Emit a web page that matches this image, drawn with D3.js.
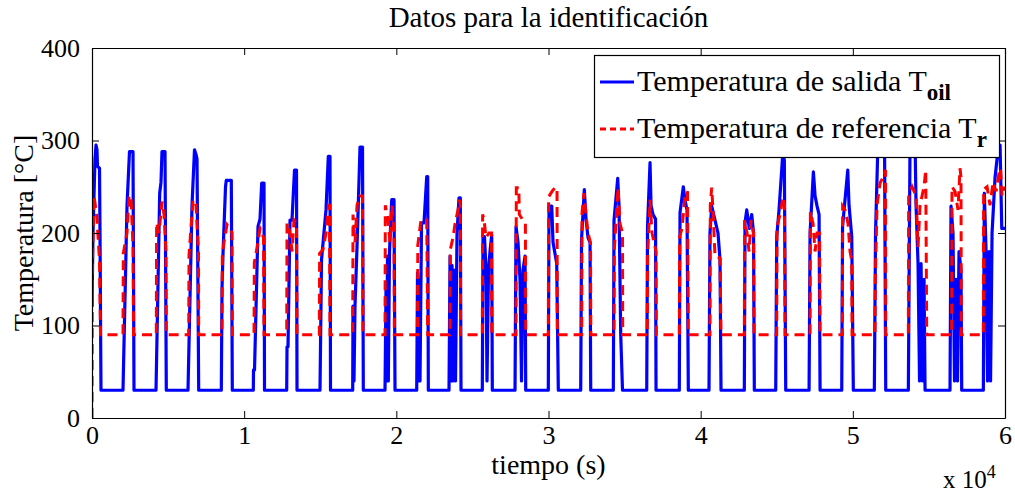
<!DOCTYPE html>
<html><head><meta charset="utf-8">
<script src="https://cdn.jsdelivr.net/npm/d3@7"></script>
<style>body{margin:0;background:#fff}svg{display:block}text{font-family:"Liberation Serif","Times New Roman",serif;fill:#000}</style>
</head><body>
<svg id="c" width="1015" height="493"></svg>
<script>
const titleText = "Datos para la identificación";
const xLabel = "tiempo (s)";
const yLabel = "Temperatura [°C]";
const xTicks = [0,10000,20000,30000,40000,50000,60000];
const yTicks = [0,100,200,300,400];
const legendLabels = ["Temperatura de salida T", "Temperatura de referencia T"];
const legendSubs = ["oil", "r"];

// Blue: Temperatura de salida T_oil  (time s, value °C)
const blueT = [0,66,197,263,329,361,493,526,591,
2037,2300,2464,2695,2760,
4206,4449,4535,4600,4798,4883,
6309,6572,6736,6835,6901,7012,
8498,8544,8610,8774,8827,9155,9221,
10601,10614,10680,10910,11041,11153,11304,11337,
12796,12816,12881,13013,13144,13308,13440,13473,
14984,15083,15378,15530,15641,15674,
17133,17153,17218,17284,17416,17613,17777,17830,
19256,19322,19355,19421,19473,19552,19697,19848,19913,
21339,21392,21444,21503,21556,21655,21819,21997,22062,22102,
23462,23528,23594,23659,23725,23791,23889,23988,24119,24205,24251,
25650,25696,25795,25893,25959,26058,26157,26268,26308,
27800,27865,27997,28128,28227,28325,28457,28503,
29988,30034,30212,30297,30540,30645,
32117,32170,32354,32466,32597,32729,32775,
34260,34306,34549,34634,34746,34864,
36455,36508,36672,36738,36869,37034,37067,
38597,38643,38860,38972,39103,39189,
40547,40613,40725,40942,41139,41271,41337,
42869,42915,43027,43198,43355,43474,43527,
44932,44998,45150,45393,45498,45590,
47124,47190,47407,47519,47650,47781,47847,
49271,49324,49666,49750,49928,50033,
51413,51492,51656,52083,52162,
53648,53760,54088,54154,54285,54384,54483,54581,54680,54746,
56386,56452,56583,56682,56780,56879,56978,57109,57155,
58577,58643,58755,58853,58952,59051,59149,59346,59563,59675,59787,60000];
const blueV = [120,200,280,295,290,272,270,200,30,
30,229,288,288,30,
30,243,255,288,288,30,
30,230,290,285,280,30,
30,140,178,250,257,257,30,
30,52,52,207,215,254,254,30,
30,77,77,214,214,268,268,30,
30,171,225,283,283,30,
30,121,40,121,185,293,293,30,
30,139,40,175,40,180,236,236,30,
30,157,40,150,40,211,211,261,261,30,
30,175,40,165,40,160,40,200,238,238,30,
30,196,196,160,40,160,180,198,30,
30,207,190,150,40,160,175,30,
30,229,229,190,167,30,
30,193,247,215,195,190,30,
30,214,259,230,90,30,
30,207,276,230,220,215,30,
30,222,250,235,225,30,
30,200,229,214,200,171,30,
30,211,225,205,220,200,30,
30,196,225,285,279,30,
30,200,266,240,229,220,30,
30,207,268,230,196,30,
30,200,300,300,30,
30,300,300,230,167,40,167,40,150,30,
30,229,200,40,150,40,180,160,30,
30,243,180,40,180,40,200,260,293,295,205,205];

// Red: Temperatura de referencia T_r
const redT = [0,20,131,263,329,493,559,
2037,2057,2300,2432,2563,2695,2727,
4226,4246,4404,4600,4732,4864,4883,
6355,6375,6638,6835,6999,7012,
8544,8564,8675,8872,9069,9201,9221,
10647,10666,10910,11041,11173,11271,11304,
12796,12816,13013,13144,13276,13440,13473,
14938,14958,15181,15378,15543,15608,15641,
17133,17153,17284,17416,17613,17777,17810,
19256,19276,19454,19585,19717,19848,19868,
21392,21411,21621,21997,22062,
23528,23548,23725,23857,24054,24153,24205,24218,
25650,25670,25762,25893,26091,26255,26268,
27865,27885,28049,28082,28482,28503,
29988,30008,30231,30428,30560,30580,
32183,32203,32334,32466,32597,32762,32782,
34306,34326,34503,34568,34700,34864,34877,
36495,36514,36672,36803,36935,37067,37087,
38597,38617,38774,38972,39136,39189,
40613,40633,40725,40811,40942,41271,41337,
42869,42889,43047,43179,43310,43474,43507,
44998,45018,45216,45413,45511,45544,
47190,47210,47387,47519,47650,47814,47847,
49310,49330,49488,49685,49816,49928,49948,
51459,51479,51591,51788,51985,52149,52162,
53648,53668,53892,54154,54285,54417,54680,54790,54856,
56498,56518,56715,56912,57043,57109,57129,
58577,58597,58820,59017,59215,59412,59609,59708,59806,60000];
const redV = [0,160,240,225,215,170,90,
90,178,200,240,240,185,90,
90,211,200,234,220,180,90,
90,176,236,230,180,90,
90,175,190,209,205,200,90,
90,168,190,205,200,195,90,
90,211,200,180,214,210,90,
90,178,182,200,230,230,90,
90,220,190,230,240,240,90,
90,230,215,190,230,200,90,
90,187,214,214,90,
90,182,195,210,225,236,230,90,
90,220,215,195,200,200,90,
90,249,249,220,210,90,
90,239,245,249,249,90,
90,222,243,220,200,189,90,
90,182,230,249,210,200,90,
90,175,236,200,190,180,90,
90,196,205,240,245,90,
90,230,249,225,175,173,90,
90,214,200,180,214,200,90,
90,207,220,239,230,90,
90,223,210,180,200,200,90,
90,229,225,210,180,170,90,
90,153,230,254,260,268,90,
90,239,250,240,185,230,250,268,90,
90,250,245,225,270,260,90,
90,247,250,230,255,245,265,270,240,250];

const FF = "'Liberation Serif','Times New Roman',serif";
const svg = d3.select("#c");
const L = 92, R = 1005, T = 48, B = 418;
const x = d3.scaleLinear().domain([0,60000]).range([L,R]);
const y = d3.scaleLinear().domain([0,400]).range([B,T]);

svg.append("defs").append("clipPath").attr("id","clip")
  .append("rect").attr("x",L).attr("y",T).attr("width",R-L).attr("height",B-T);

const line = d3.line().x(d=>x(d[0])).y(d=>y(d[1]));
const blue = blueT.map((t,i)=>[t,blueV[i]]);
const red = redT.map((t,i)=>[t,redV[i]]);

const g = svg.append("g").attr("clip-path","url(#clip)");
g.append("path").datum(blue).attr("d",line).attr("fill","none")
  .attr("stroke","#0000ff").attr("stroke-width",3.2).attr("stroke-linejoin","round");
g.append("path").datum(red).attr("d",line).attr("fill","none")
  .attr("stroke","#ff0000").attr("stroke-width",3).attr("stroke-dasharray","10,6");

// axes (MATLAB style: ticks inside, box)
const tl = 7;
const axB = svg.append("g").attr("transform",`translate(0,${B})`)
  .call(d3.axisBottom(x).tickValues(xTicks).tickSizeInner(-tl).tickSizeOuter(0).tickPadding(8).tickFormat(d=>d/10000));
const axT = svg.append("g").attr("transform",`translate(0,${T})`)
  .call(d3.axisTop(x).tickValues(xTicks).tickSizeInner(-tl).tickSizeOuter(0).tickFormat(""));
const axL = svg.append("g").attr("transform",`translate(${L},0)`)
  .call(d3.axisLeft(y).tickValues(yTicks).tickSizeInner(-tl).tickSizeOuter(0).tickPadding(12));
const axR = svg.append("g").attr("transform",`translate(${R},0)`)
  .call(d3.axisRight(y).tickValues(yTicks).tickSizeInner(-tl).tickSizeOuter(0).tickFormat(""));
[axB,axT,axL,axR].forEach(a=>{
  a.attr("font-family",null);
  a.selectAll("path").attr("stroke","#000").attr("stroke-width",1.2);
  a.selectAll("line").attr("stroke","#000").attr("stroke-width",1);
  a.selectAll("text").style("font-family",FF).style("font-size","26px").attr("fill","#000");
});
axB.selectAll("text").attr("dy","0.71em");

svg.append("text").attr("x",(L+R)/2).attr("y",27).attr("text-anchor","middle")
  .style("font-family",FF).style("font-size","29px").text(titleText);
svg.append("text").attr("x",(L+R)/2).attr("y",474).attr("text-anchor","middle")
  .style("font-family",FF).style("font-size","28px").text(xLabel);
svg.append("text").attr("transform",`translate(33,${(T+B)/2}) rotate(-90)`).attr("text-anchor","middle")
  .style("font-family",FF).style("font-size","28px").text(yLabel);
const mult = svg.append("text").attr("x",943).attr("y",488).style("font-family",FF).style("font-size","25px");
mult.append("tspan").text("x 10");
mult.append("tspan").attr("dy",-10).style("font-size","18px").text("4");

// legend
const lg = svg.append("g");
lg.append("rect").attr("x",594.5).attr("y",55.5).attr("width",405).attr("height",102)
  .attr("fill","#fff").attr("stroke","#000").attr("stroke-width",1.2);
const rows = [{c:"#0000ff",d:null,y:82},{c:"#ff0000",d:"6,4",y:129}];
rows.forEach((r,i)=>{
  lg.append("line").attr("x1",600).attr("x2",634).attr("y1",r.y).attr("y2",r.y)
    .attr("stroke",r.c).attr("stroke-width",3).attr("stroke-dasharray",r.d);
  const t = lg.append("text").attr("x",637).attr("y",r.y+9).style("font-family",FF).style("font-size","30px");
  t.append("tspan").text(legendLabels[i]);
  t.append("tspan").attr("dy",9).style("font-size","23px").style("font-weight","bold").text(legendSubs[i]);
});
</script>
</body></html>
